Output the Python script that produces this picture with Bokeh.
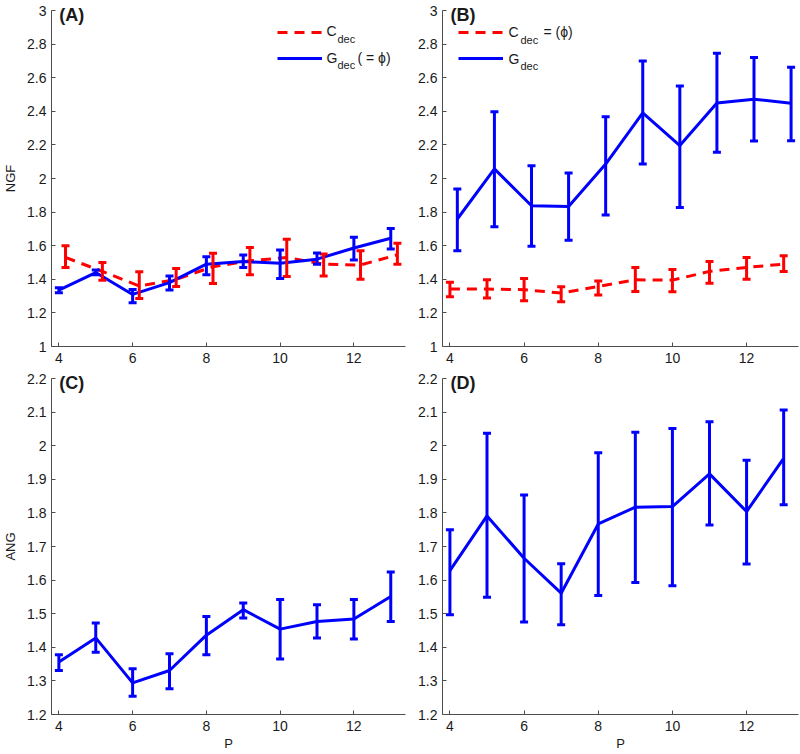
from bokeh.plotting import figure
from bokeh.models import (ColumnDataSource, Whisker, TeeHead, FixedTicker, LinearAxis,
                          NumeralTickFormatter, CustomJSTickFormatter, Range1d,
                          Legend, LegendItem, Label)
from bokeh.layouts import gridplot
from bokeh.embed import file_html
from bokeh.resources import INLINE

# ---------------- data ----------------
P = [4, 5, 6, 7, 8, 9, 10, 11, 12, 13]

# Panel A (NGF)
A_c_mean = [1.53, 1.447, 1.36, 1.40, 1.475, 1.51, 1.53, 1.49, 1.485, 1.546]
A_c_low = [1.47, 1.395, 1.286, 1.357, 1.375, 1.427, 1.417, 1.42, 1.40, 1.49]
A_c_up = [1.60, 1.50, 1.445, 1.465, 1.555, 1.59, 1.638, 1.55, 1.57, 1.614]
A_g_mean = [1.336, 1.44, 1.31, 1.38, 1.49, 1.506, 1.495, 1.52, 1.586, 1.644]
A_g_low = [1.32, 1.427, 1.26, 1.336, 1.427, 1.47, 1.405, 1.49, 1.515, 1.58]
A_g_up = [1.35, 1.455, 1.34, 1.42, 1.534, 1.544, 1.574, 1.556, 1.65, 1.703]

# Panel B (NGF)
B_g_mean = [1.759, 2.057, 1.838, 1.834, 2.086, 2.39, 2.196, 2.45, 2.472, 2.448]
B_g_low = [1.57, 1.713, 1.596, 1.633, 1.782, 2.086, 1.828, 2.156, 2.223, 2.225]
B_g_up = [1.937, 2.398, 2.076, 2.033, 2.368, 2.70, 2.551, 2.746, 2.72, 2.662]
B_c_mean = [1.342, 1.342, 1.338, 1.318, 1.357, 1.397, 1.395, 1.447, 1.471, 1.49]
B_c_low = [1.296, 1.288, 1.272, 1.266, 1.306, 1.328, 1.326, 1.377, 1.40, 1.447]
B_c_up = [1.382, 1.397, 1.405, 1.356, 1.39, 1.47, 1.459, 1.506, 1.53, 1.54]

# Panel C (ANG)
C_mean = [1.356, 1.428, 1.294, 1.331, 1.436, 1.512, 1.454, 1.477, 1.484, 1.551]
C_low = [1.331, 1.385, 1.254, 1.277, 1.378, 1.487, 1.365, 1.428, 1.425, 1.477]
C_up = [1.378, 1.472, 1.336, 1.381, 1.492, 1.532, 1.542, 1.527, 1.542, 1.624]

# Panel D (ANG)
D_mean = [1.628, 1.791, 1.665, 1.561, 1.767, 1.817, 1.819, 1.916, 1.804, 1.962]
D_low = [1.497, 1.549, 1.475, 1.467, 1.554, 1.593, 1.583, 1.764, 1.648, 1.824]
D_up = [1.75, 2.037, 1.853, 1.649, 1.979, 2.04, 2.051, 2.071, 1.957, 2.106]

NGF_ticks = [1, 1.2, 1.4, 1.6, 1.8, 2, 2.2, 2.4, 2.6, 2.8, 3]
ANG_ticks = [1.2, 1.3, 1.4, 1.5, 1.6, 1.7, 1.8, 1.9, 2, 2.1, 2.2]
P_ticks = [4, 6, 8, 10, 12]
PANEL_TAGS = ["(A)", "(B)", "(C)", "(D)"]

SHIFT_A = 0.18
SHIFT_B = 0.2
TAG_POS = 4.35  # horizontal anchor (in P units) of the panel tag

RED = "#ff0000"
BLUE = "#0000ff"
FONT = "Liberation Sans"
AXC = "#4d4d4d"
TXT = "#1a1a1a"


def make_fig(w, h, bl, br, bt, bb, yr, yticks, tag, ylabel=None, xlabel=None):
    p = figure(width=w, height=h, x_range=Range1d(3.8, 13.4), y_range=Range1d(*yr),
               output_backend="svg", toolbar_location=None,
               min_border_left=bl, min_border_right=br,
               min_border_top=bt, min_border_bottom=bb)
    p.outline_line_color = None
    p.xgrid.visible = False
    p.ygrid.visible = False
    p.background_fill_color = "white"
    p.border_fill_color = "white"
    p.xaxis.ticker = FixedTicker(ticks=P_ticks)
    p.yaxis.ticker = FixedTicker(ticks=yticks)
    p.yaxis.formatter = NumeralTickFormatter(format="0.[0]")
    for ax in (p.xaxis[0], p.yaxis[0]):
        ax.axis_line_color = AXC
        ax.axis_line_width = 1
        ax.major_tick_line_color = AXC
        ax.major_tick_in = 4
        ax.major_tick_out = 0
        ax.minor_tick_in = 0
        ax.minor_tick_out = 0
        ax.minor_tick_line_color = None
        ax.major_label_text_font = FONT
        ax.major_label_text_font_size = "14px"
        ax.major_label_text_color = TXT
        ax.axis_label_text_font = FONT
        ax.axis_label_text_font_size = "13px"
        ax.axis_label_text_font_style = "normal"
        ax.axis_label_text_color = TXT
    p.yaxis.major_label_standoff = 5
    p.yaxis.axis_label_standoff = 6
    p.xaxis.major_label_standoff = 6
    p.xaxis.axis_label_standoff = 2
    if ylabel:
        p.yaxis.axis_label = ylabel
    if xlabel:
        p.xaxis.axis_label = xlabel
    # panel tag, drawn as the single label of an invisible top axis
    tag_axis = LinearAxis(ticker=FixedTicker(ticks=[TAG_POS]),
                          formatter=CustomJSTickFormatter(code="return '%s';" % tag),
                          axis_line_color=None, major_tick_line_color=None,
                          minor_tick_line_color=None, major_tick_in=0, major_tick_out=0,
                          minor_tick_in=0, minor_tick_out=0,
                          major_label_standoff=-14,
                          major_label_text_font=FONT, major_label_text_font_size="18px",
                          major_label_text_font_style="bold", major_label_text_color=TXT)
    p.add_layout(tag_axis, "above")
    return p


def series(p, xs, mean, low, up, color, dashed=False):
    src = ColumnDataSource(dict(x=xs, y=mean, low=low, up=up))
    w = Whisker(source=src, base="x", lower="low", upper="up", dimension="height",
                line_color=color, line_width=3, level="glyph",
                upper_head=TeeHead(size=8, line_color=color, line_width=3),
                lower_head=TeeHead(size=8, line_color=color, line_width=3))
    p.add_layout(w)
    r = p.line("x", "y", source=src, line_color=color, line_width=3,
               line_dash="10 7" if dashed else "solid")
    return r


def text(p, fh, dx, dy, txt, size):
    # dx, dy: pixel distance from the frame's top-left corner
    p.add_layout(Label(x=dx, y=fh - dy, x_units="screen", y_units="screen",
                       text=txt, text_font=FONT, text_font_size=size,
                       text_color=TXT, text_baseline="middle", text_align="left"))


def legend(p, frame_h, lx, items):
    leg = Legend(items=[LegendItem(label=" ", renderers=[r]) for r in items],
                 location=(lx, frame_h - 12 - 46), padding=0, spacing=6, margin=0,
                 glyph_width=45, glyph_height=20, label_height=20, label_width=0,
                 label_standoff=0, border_line_alpha=0, background_fill_alpha=0,
                 label_text_font_size="1px")
    p.add_layout(leg)


FH_TOP = 336

pA = make_fig(408, 369, 49, 3, 10, 23, (1, 3), NGF_ticks, PANEL_TAGS[0], ylabel="NGF")
pB = make_fig(392, 369, 34, 2, 10, 23, (1, 3), NGF_ticks, PANEL_TAGS[1])
pC = make_fig(408, 384, 49, 3, 9, 38, (1.2, 2.2), ANG_ticks, PANEL_TAGS[2],
              ylabel="ANG", xlabel="P")
pD = make_fig(392, 384, 34, 2, 9, 38, (1.2, 2.2), ANG_ticks, PANEL_TAGS[3], xlabel="P")

# Panel A
rA_c = series(pA, [x + SHIFT_A for x in P], A_c_mean, A_c_low, A_c_up, RED, dashed=True)
rA_g = series(pA, P, A_g_mean, A_g_low, A_g_up, BLUE)
legend(pA, FH_TOP, 226, [rA_c, rA_g])
text(pA, FH_TOP, 275, 20, "C", "14px")
text(pA, FH_TOP, 286, 28, "dec", "11px")
text(pA, FH_TOP, 275, 47, "G", "14px")
text(pA, FH_TOP, 286, 54, "dec", "11px")
text(pA, FH_TOP, 306, 47, "( = \u03d5)", "14px")

# Panel B
rB_c = series(pB, P, B_c_mean, B_c_low, B_c_up, RED, dashed=True)
rB_g = series(pB, [x + SHIFT_B for x in P], B_g_mean, B_g_low, B_g_up, BLUE)
legend(pB, FH_TOP, 16, [rB_c, rB_g])
text(pB, FH_TOP, 66, 21, "C", "14px")
text(pB, FH_TOP, 78, 29, "dec", "11px")
text(pB, FH_TOP, 101, 21, "= (\u03d5)", "14px")
text(pB, FH_TOP, 66, 48, "G", "14px")
text(pB, FH_TOP, 78, 55, "dec", "11px")

# Panel C
series(pC, P, C_mean, C_low, C_up, BLUE)

# Panel D
series(pD, P, D_mean, D_low, D_up, BLUE)

grid = gridplot([[pA, pB], [pC, pD]], toolbar_location=None)

with open("out.html", "w") as f:
    f.write(file_html(grid, INLINE))
